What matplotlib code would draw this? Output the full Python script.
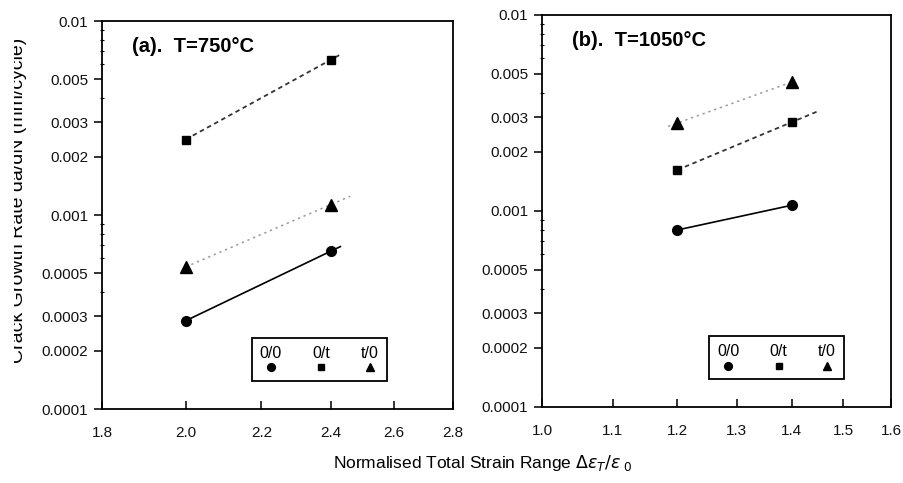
import numpy as np
import matplotlib
matplotlib.use('Agg')
import matplotlib.pyplot as plt
from matplotlib.offsetbox import VPacker
from matplotlib.ticker import FixedLocator, NullFormatter, NullLocator, LogLocator

plt.rcParams['font.family'] = ['Liberation Sans', 'DejaVu Sans']

# ---- data ----
series_labels = ['0/0', '0/t', 't/0']

# (a) T=750C
x_a = [2.0, 2.4]
circle_a = [0.000285, 0.00065]
square_a = [0.00245, 0.0063]
triangle_a = [0.00054, 0.00113]
fit_end_a = [2.43, 2.43, 2.46]          # where each fit line stops (0/0, 0/t, t/0)

# (b) T=1050C
x_b = [1.2, 1.4]
circle_b = [0.0008, 0.00107]
square_b = [0.00162, 0.00284]
triangle_b = [0.00281, 0.00455]
fit_start_b = [1.2, 1.2, 1.185]
fit_end_b = [1.4, 1.45, 1.4]

yticks = [0.0001, 0.0002, 0.0003, 0.0005, 0.001, 0.002, 0.003, 0.005, 0.01]
ytick_labels = ['0.0001', '0.0002', '0.0003', '0.0005', '0.001', '0.002', '0.003', '0.005', '0.01']
xticks_a = [1.8, 2.0, 2.2, 2.4, 2.6, 2.8]
xticks_b = [1.0, 1.1, 1.2, 1.3, 1.4, 1.5, 1.6]

markers = ['o', 's', '^']
msizes = [7, 6, 8]
styles = [dict(color='black', ls='-', lw=1.2),
          dict(color='#333333', ls=(0, (2.5, 2)), lw=1.3),
          dict(color='#9a9a9a', ls=(0, (1.5, 2.5)), lw=1.1)]


def power_fit(xs, ys, x0, x1):
    # straight line in log-log space through the two measured points
    lx, ly = np.log10(xs), np.log10(ys)
    slope = (ly[1] - ly[0]) / (lx[1] - lx[0])
    xx = np.array([x0, x1])
    return xx, 10 ** (ly[0] + slope * (np.log10(xx) - lx[0]))


def stack_legend(leg):
    # put each label above its marker, like the original key
    for col in leg._legend_handle_box.get_children():
        new = []
        for item in col.get_children():
            h, t = item.get_children()
            new.append(VPacker(children=[t, h], align='center', pad=0, sep=1))
        col._children = new


def style_axes(ax, xticks):
    ax.set_xscale('log')
    ax.set_yscale('log')
    ax.set_xlim(xticks[0], xticks[-1])
    ax.set_ylim(0.0001, 0.01)
    ax.xaxis.set_major_locator(FixedLocator(xticks))
    ax.set_xticklabels([f'{t:.1f}' for t in xticks])
    ax.xaxis.set_minor_locator(NullLocator())
    ax.yaxis.set_major_locator(FixedLocator(yticks))
    ax.set_yticklabels(ytick_labels)
    ax.yaxis.set_minor_locator(LogLocator(base=10, subs=np.arange(2, 10)))
    ax.yaxis.set_minor_formatter(NullFormatter())
    ax.tick_params(axis='x', which='major', direction='in', length=6, width=1.2,
                   labelsize=11, pad=12, colors='#111111')
    ax.tick_params(axis='y', which='major', direction='out', length=6, width=1.2,
                   labelsize=11, pad=4, colors='#111111')
    ax.tick_params(axis='y', which='minor', direction='inout', length=3, width=0.8)
    for s in ax.spines.values():
        s.set_linewidth(1.3)


def draw_panel(ax, x, ys, starts, ends, title, xticks, leg_anchor):
    style_axes(ax, xticks)
    handles = []
    for i, yv in enumerate(ys):
        fx, fy = power_fit(x, yv, starts[i], ends[i])
        ax.plot(fx, fy, **styles[i], zorder=2)
        h, = ax.plot(x, yv, ls='none', marker=markers[i], ms=msizes[i],
                     color='black', zorder=3, label=series_labels[i])
        handles.append(h)
    ax.text(0.085, 0.935, title, transform=ax.transAxes, fontsize=14.5,
            fontweight='bold', va='center', ha='left')
    leg = ax.legend(handles=handles, ncol=3, loc='lower left', bbox_to_anchor=leg_anchor,
                    borderaxespad=0, fancybox=False, edgecolor='black', framealpha=1,
                    fontsize=11.5, handlelength=1.0, handletextpad=0.0, columnspacing=1.9,
                    borderpad=0.5, markerscale=0.8)
    leg.get_frame().set_linewidth(1.3)
    stack_legend(leg)


fig = plt.figure(figsize=(9.04, 4.83), dpi=100)
ax_a = fig.add_axes([0.1128, 0.1532, 0.3883, 0.8033])
ax_b = fig.add_axes([0.5996, 0.1574, 0.3860, 0.8116])

draw_panel(ax_a, x_a, [circle_a, square_a, triangle_a], [2.0, 2.0, 2.0], fit_end_a,
           '(a).  T=750°C', xticks_a, (0.427, 0.072))
draw_panel(ax_b, x_b, [circle_b, square_b, triangle_b], fit_start_b, fit_end_b,
           '(b).  T=1050°C', xticks_b, (0.479, 0.071))

fig.text(0.534, 0.041, r'Normalised Total Strain Range $\Delta\epsilon_T/\epsilon_{\ 0}$',
         ha='center', va='center', fontsize=12.5)
# y label is cut by the edge of the scan in the original
fig.text(0.021, 0.585, 'Crack Growth Rate da/dN (mm/cycle)', rotation=90,
         ha='center', va='center', fontsize=14)
fig.patches.append(plt.Rectangle((0, 0), 0.0155, 1, transform=fig.transFigure,
                                 facecolor='white', edgecolor='none', zorder=10))

fig.savefig('out.png', dpi=100)
